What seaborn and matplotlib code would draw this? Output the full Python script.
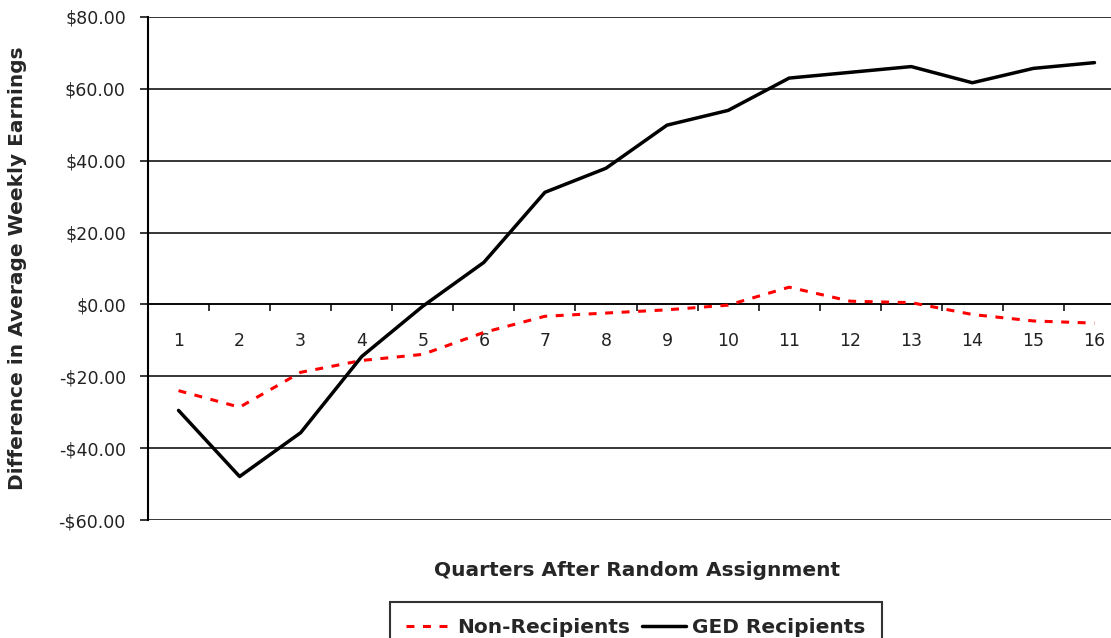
import matplotlib
matplotlib.use('Agg')
import matplotlib.pyplot as plt
import seaborn as sns
import pandas as pd
from matplotlib.lines import Line2D

# datos
quarters = list(range(1, 17))
non_recipients = [-24.0, -28.6, -18.9, -15.6, -13.9, -7.8, -3.3, -2.4,
                  -1.5, -0.2, 4.8, 0.9, 0.5, -2.8, -4.6, -5.2]
ged_recipients = [-29.5, -47.9, -35.7, -14.5, -0.5, 11.7, 31.2, 37.9,
                  49.9, 54.0, 63.0, 64.6, 66.2, 61.7, 65.7, 67.3]
y_ticks = [80, 60, 40, 20, 0, -20, -40, -60]

df = pd.DataFrame({'Quarter': quarters,
                   'Non-Recipients': non_recipients,
                   'GED Recipients': ged_recipients})

sns.set_style('white')
plt.rcParams['font.family'] = ['DejaVu Sans']

fig = plt.figure(figsize=(11.11, 6.38), dpi=100)
ax = fig.add_axes([148 / 1111, 1 - 520 / 638, 977 / 1111, 503 / 638])

# lineas horizontales de la cuadricula
for v in y_ticks:
    ax.axhline(v, color='black', lw=1.1, zorder=1)

sns.lineplot(data=df, x='Quarter', y='Non-Recipients', ax=ax, color='#ff0000',
             lw=2.2, zorder=3)
ax.lines[-1].set_dashes((2.6, 2.8))
sns.lineplot(data=df, x='Quarter', y='GED Recipients', ax=ax, color='black',
             lw=2.5, zorder=4)

ax.set_xlim(0.5, 16.5)
ax.set_ylim(-60, 80)
ax.set_yticks(y_ticks)
ax.set_yticklabels([f'${v:.2f}' if v >= 0 else f'-${-v:.2f}' for v in y_ticks],
                   fontsize=12.5, color='#222222')
ax.tick_params(axis='y', direction='out', length=6, width=1.1, color='black', pad=10, left=True)

# eje x cruzando en cero
ax.spines[['top', 'right']].set_visible(False)
ax.spines['bottom'].set_position(('data', 0))
ax.spines['bottom'].set_linewidth(1.1)
ax.spines['left'].set_linewidth(1.5)
ax.spines['left'].set_color('black')
ax.spines['bottom'].set_color('black')
ax.set_xticks(quarters)
ax.set_xticklabels([str(q) for q in quarters], fontsize=12.5, color='#222222')
ax.tick_params(axis='x', which='major', length=0, pad=20, bottom=True)
ax.set_xticks([q + 0.5 for q in quarters[:-1]], minor=True)
ax.tick_params(axis='x', which='minor', direction='out', length=5, width=1.1,
               color='black', bottom=True)

ax.set_xlabel('')
ax.set_ylabel('Difference in Average Weekly Earnings', fontsize=14.5,
              fontweight='bold')
ax.yaxis.set_label_coords(-0.1235, 0.5)
fig.text(637 / 1111, 1 - 571 / 638, 'Quarters After Random Assignment',
         ha='center', va='center', fontsize=14.5, fontweight='bold')

handles = [Line2D([], [], color='#ff0000', lw=2.2, dashes=(2.6, 2.8)),
           Line2D([], [], color='black', lw=2.5)]
leg = fig.legend(handles, ['Non-Recipients', 'GED Recipients'], ncol=2,
                 loc='upper center', bbox_to_anchor=(636 / 1111, 1 - 602 / 638),
                 borderaxespad=0, frameon=True, fancybox=False, edgecolor='black',
                 prop={'weight': 'bold', 'size': 14.5}, handlelength=2.2,
                 columnspacing=0.6, handletextpad=0.3, borderpad=0.8)
leg.get_frame().set_linewidth(1.5)

plt.savefig('out.png', dpi=100)
